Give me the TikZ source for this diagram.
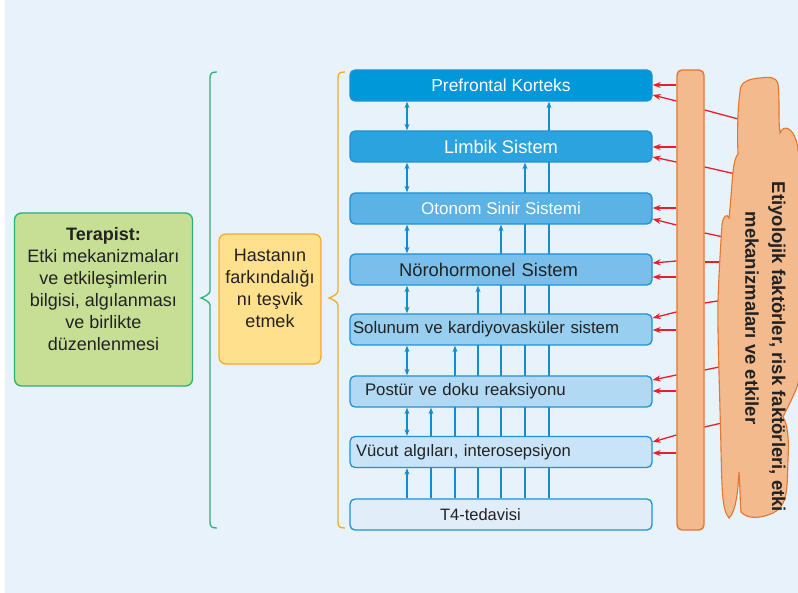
\documentclass[tikz,border=0pt]{standalone}
\usepackage{fontspec}
\setmainfont{Liberation Sans}
\usetikzlibrary{arrows.meta,calc}
\definecolor{bg}{RGB}{232,242,251}
\definecolor{bxline}{RGB}{30,145,215}
\definecolor{arrblue}{RGB}{20,140,210}
\definecolor{cA}{RGB}{0,152,216}
\definecolor{cB}{RGB}{43,163,222}
\definecolor{cC}{RGB}{90,178,229}
\definecolor{cD}{RGB}{122,191,235}
\definecolor{cE}{RGB}{152,206,240}
\definecolor{cF}{RGB}{178,217,244}
\definecolor{cG}{RGB}{201,228,248}
\definecolor{cH}{RGB}{225,238,250}
\definecolor{redarr}{RGB}{232,30,40}
\definecolor{orfill}{RGB}{243,186,142}
\definecolor{orline}{RGB}{228,118,48}
\definecolor{grfill}{RGB}{198,223,148}
\definecolor{grline}{RGB}{40,178,115}
\definecolor{yefill}{RGB}{255,224,140}
\definecolor{yeline}{RGB}{247,170,40}
\definecolor{txt}{RGB}{34,34,34}
\pgfdeclarelayer{bgl}
\pgfdeclarelayer{back}
\pgfsetlayers{bgl,back,main}
\tikzset{
  sysbox/.style={draw=bxline, line width=1.3pt, rounded corners=5pt,
    minimum width=302pt, minimum height=31pt, inner ysep=0pt,
    font=\fontsize{16.8}{20}\selectfont, text=txt},
  fs/.style={font=\fontsize{#1}{20}\selectfont},
  lbox/.style={align=left, inner xsep=#1, text width=302pt-2*#1},
  bluearr/.style={draw=arrblue, line width=1.3pt, -{Stealth[length=6.5pt,width=5pt]}},
  bluedbl/.style={draw=arrblue, line width=1.3pt, {Stealth[length=6.5pt,width=5pt]}-{Stealth[length=6.5pt,width=5pt]}},
  redarrow/.style={draw=redarr, line width=1.3pt, -{Stealth[length=8pt,width=6pt]}},
  redline/.style={draw=redarr, line width=1.3pt},
  sidebox/.style={rounded corners=7pt, line width=1.3pt, align=center, text=txt,
    font=\fontsize{18}{22}\selectfont, inner sep=0pt},
  cloudtxt/.style={rotate=-90, font=\fontsize{18.5}{22}\selectfont\bfseries, text=txt}
}
\begin{document}
\begin{tikzpicture}[x=1pt,y=-1pt]
\useasboundingbox (0,0) rectangle (798,593);
\begin{pgfonlayer}{bgl}
\fill[bg] (5,0) rectangle (798,593);
\end{pgfonlayer}

\path (501,514.5) node[sysbox, fill=cH, fs=16.5, lbox=90pt] (t4) {T4-tedavisi};
\path (501,85.5) node[sysbox, fill=cA, text=white, fs=17.4] (pf) {Prefrontal Korteks};
\path (501,146.5) node[sysbox, fill=cB, text=white, fs=18.3] (lb) {Limbik Sistem};
\path (501,208.5) node[sysbox, fill=cC, text=white, fs=17] (on) {Otonom Sinir Sistemi};
\path (501,269.5) node[sysbox, fill=cD, fs=18.4, lbox=49pt] (nh) {Nörohormonel Sistem};
\path (501,329.5) node[sysbox, fill=cE, lbox=3pt] (sk) {Solunum ve kardiyovasküler sistem};
\path (501,391.5) node[sysbox, fill=cF, lbox=15pt] (pd) {Postür ve doku reaksiyonu};
\path (501,452) node[sysbox, fill=cG, fs=16.6, lbox=6pt] (va) {Vücut algıları, interosepsiyon};

% vertical lines from T4, behind the boxes
\begin{pgfonlayer}{back}
\draw[bluearr] (t4.north -| 549,0) -- (pf.south -| 549,0);
\draw[bluearr] (t4.north -| 525,0) -- (lb.south -| 525,0);
\draw[bluearr] (t4.north -| 501,0) -- (on.south -| 501,0);
\draw[bluearr] (t4.north -| 478,0) -- (nh.south -| 478,0);
\draw[bluearr] (t4.north -| 455,0) -- (sk.south -| 455,0);
\draw[bluearr] (t4.north -| 431,0) -- (pd.south -| 431,0);
\draw[bluearr] (t4.north -| 407,0) -- (va.south -| 407,0);
\end{pgfonlayer}

% double arrows
\draw[bluedbl] (pf.south -| 407,0) -- (lb.north -| 407,0);
\draw[bluedbl] (lb.south -| 407,0) -- (on.north -| 407,0);
\draw[bluedbl] (on.south -| 407,0) -- (nh.north -| 407,0);
\draw[bluedbl] (nh.south -| 407,0) -- (sk.north -| 407,0);
\draw[bluedbl] (sk.south -| 407,0) -- (pd.north -| 407,0);
\draw[bluedbl] (pd.south -| 407,0) -- (va.north -| 407,0);

% orange bar
\node[draw=orline, fill=orfill, line width=1.4pt, rounded corners=5pt,
  minimum width=27pt, minimum height=460pt, inner sep=0pt] (bar) at (690.5,300) {};

% red arrows bar -> boxes
\draw[redarrow] (bar.west |- 0,85) -- (pf.east |- 0,85);
\draw[redarrow] (bar.west |- 0,101) -- (pf.east |- 0,95);
\draw[redarrow] (bar.west |- 0,147) -- (lb.east |- 0,147);
\draw[redarrow] (bar.west |- 0,162) -- (lb.east |- 0,157);
\draw[redarrow] (bar.west |- 0,208) -- (on.east |- 0,208);
\draw[redarrow] (bar.west |- 0,225) -- (on.east |- 0,219);
\draw[redarrow] (bar.west |- 0,261) -- (nh.east |- 0,263);
\draw[redarrow] (bar.west |- 0,277) -- (nh.east |- 0,277);
\draw[redarrow] (bar.west |- 0,312) -- (sk.east |- 0,318);
\draw[redarrow] (bar.west |- 0,330) -- (sk.east |- 0,330);
\draw[redarrow] (bar.west |- 0,375) -- (pd.east |- 0,380);
\draw[redarrow] (bar.west |- 0,391) -- (pd.east |- 0,391);
\draw[redarrow] (bar.west |- 0,435) -- (va.east |- 0,442);
\draw[redarrow] (bar.west |- 0,453) -- (va.east |- 0,453);

% red lines cloud -> bar
\coordinate (k1) at (742,120);
\coordinate (k2) at (740,175);
\coordinate (k3) at (728,238);
\coordinate (k4) at (728,262);
\coordinate (k5) at (724,300);
\coordinate (k6) at (724,366);
\coordinate (k7) at (726,422);
\draw[redline] (bar.east |- 0,110) -- (k1);
\draw[redline] (bar.east |- 0,167) -- (k2);
\draw[redline] (bar.east |- 0,233) -- (k3);
\draw[redline] (bar.east |- 0,262) -- (k4);
\draw[redline] (bar.east |- 0,303) -- (k5);
\draw[redline] (bar.east |- 0,370) -- (k6);
\draw[redline] (bar.east |- 0,427) -- (k7);

% cloud
\draw[orline, fill=orfill, line width=1.1pt]
  (740,92) .. controls (740,82) and (748,79) .. (760,78)
  .. controls (768,77) and (776,76) .. (778,84)
  .. controls (780,100) and (778,120) .. (780,133)
  .. controls (784,124) and (792,128) .. (796,140)
  .. controls (806,170) and (806,360) .. (797,387)
  .. controls (792,400) and (786,410) .. (783,417)
  .. controls (788,425) and (789,440) .. (788,460)
  .. controls (787,490) and (788,505) .. (773,513)
  .. controls (762,518) and (748,520) .. (741,512)
  .. controls (740,500) and (740,485) .. (739,472)
  .. controls (738,490) and (736,512) .. (729,518)
  .. controls (722,510) and (722,490) .. (721,450)
  .. controls (720,400) and (717,320) .. (718,300)
  .. controls (719,270) and (721,240) .. (722,225)
  .. controls (723,216) and (727,213) .. (729,218)
  .. controls (731,200) and (732,180) .. (733,172)
  .. controls (734,162) and (736,156) .. (738,154)
  .. controls (737,130) and (738,105) .. (740,92) -- cycle;

\node[cloudtxt] (ct1) at (777,347) {Etiyolojik faktörler, risk faktörleri, etki};
\node[cloudtxt] (ct2) at (752,318) {mekanizmaları ve etkiler};

% left boxes
\node[sidebox, draw=grline, fill=grfill, minimum width=178pt, minimum height=173pt]
  (ter) at (103.5,299.5) {\textbf{Terapist:}\\Etki mekanizmaları\\ve etkileşimlerin\\bilgisi, algılanması\\ve birlikte\\düzenlenmesi\\\mbox{}};
\node[sidebox, draw=yeline, fill=yefill, minimum width=102pt, minimum height=130pt]
  (has) at (270,299) {Hastanın\\farkındalığı\\nı teşvik\\etmek\\\mbox{}};

% braces
\draw[grline, line width=1.3pt] (217,72) .. controls (212,72) and (210,73) .. (210,78)
  -- (210,291) .. controls (210,294) and (204,297) .. (201,298)
  .. controls (204,299) and (210,302) .. (210,305)
  -- (210,522) .. controls (210,527) and (212,528) .. (217,528);
\draw[yeline, line width=1.3pt] (345,72) .. controls (340,72) and (338,73) .. (338,78)
  -- (338,291) .. controls (338,294) and (332,297) .. (329,298)
  .. controls (332,299) and (338,302) .. (338,305)
  -- (338,522) .. controls (338,527) and (340,528) .. (345,528);
\end{tikzpicture}
\end{document}
